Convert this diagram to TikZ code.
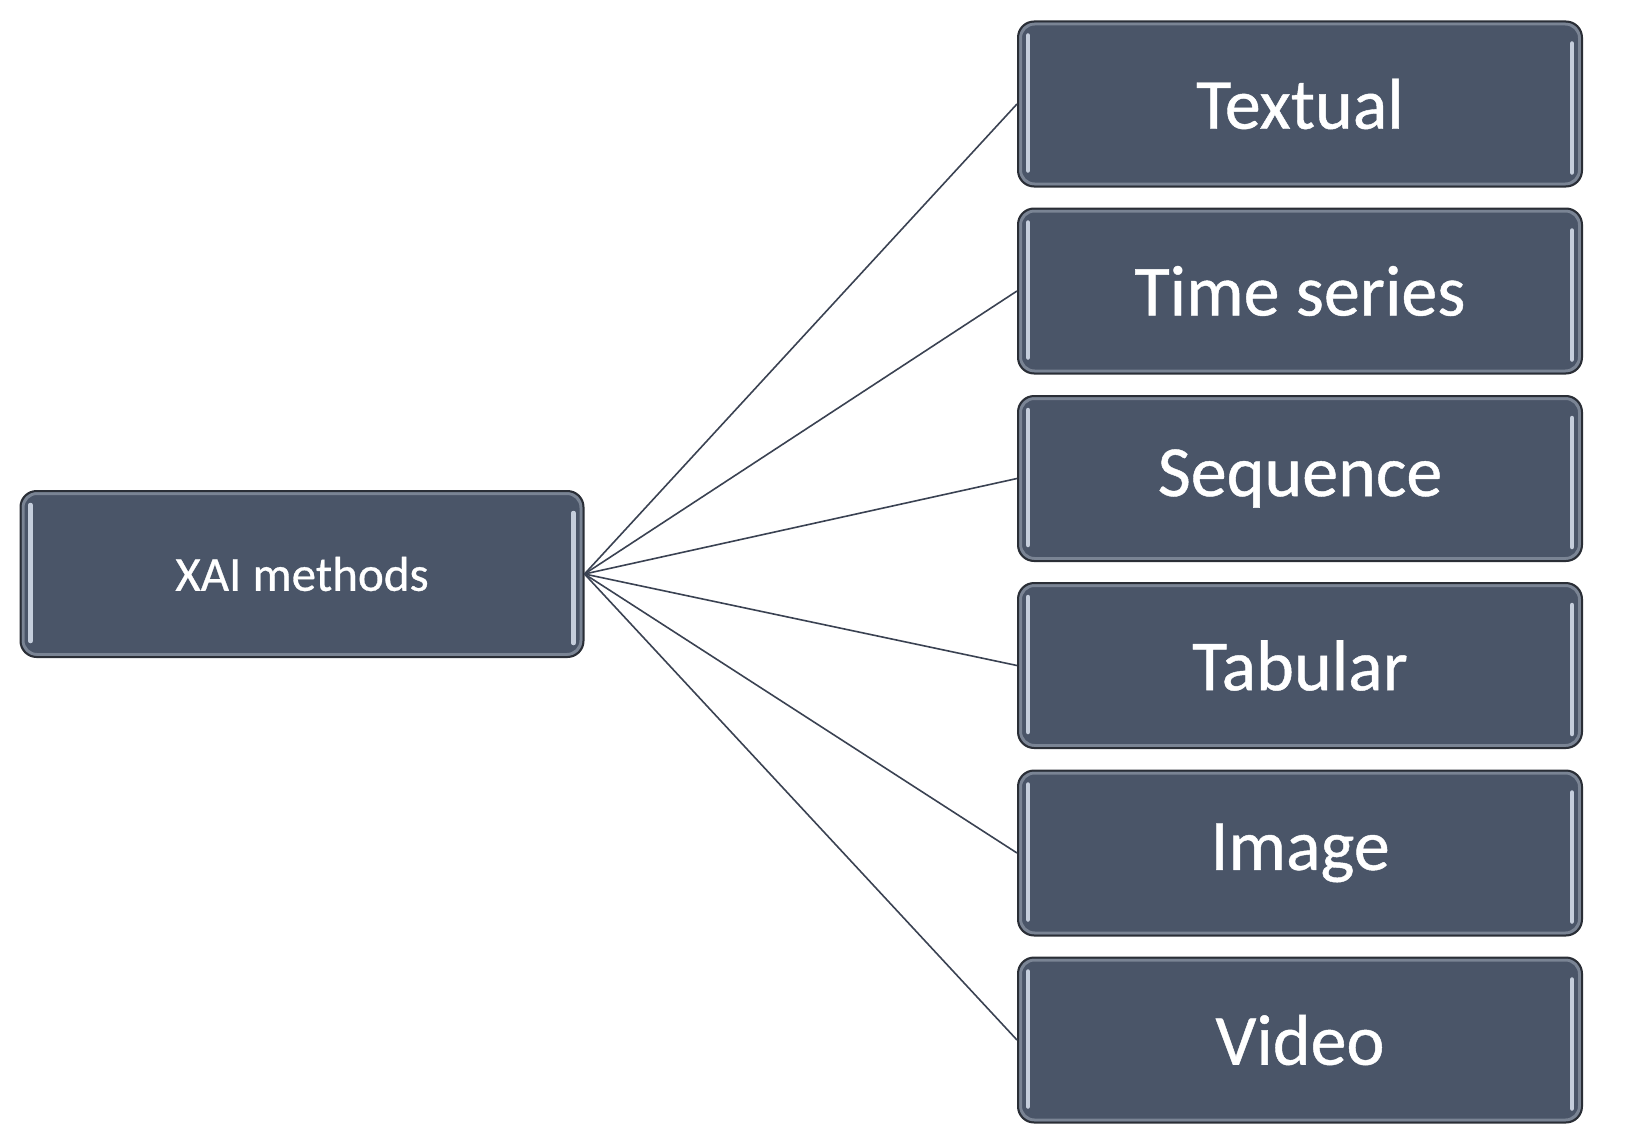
\documentclass[tikz,border=0pt]{standalone}
\usepackage{fontspec}
\setmainfont[FakeBold=0.6]{Carlito}
\definecolor{boxfill}{HTML}{4A5568}
\definecolor{boxline}{HTML}{2A2E36}
\definecolor{hlcol}{HTML}{C5CEDC}
\definecolor{bevel}{HTML}{7A8494}
\definecolor{linkcol}{HTML}{3A4252}
\tikzset{
  box/.style={rectangle, rounded corners=16pt, fill=boxfill, draw=boxline,
    line width=2pt, text=white, inner sep=0pt,
    path picture={
      \draw[bevel, line width=3pt, rounded corners=14pt]
        ([xshift=2.5pt,yshift=-2.5pt]path picture bounding box.north west) rectangle
        ([xshift=-2.5pt,yshift=2.5pt]path picture bounding box.south east);
      \draw[hlcol, line width=4.5pt, line cap=round]
        ([xshift=10pt,yshift=-14pt]path picture bounding box.north west) --
        ([xshift=10pt,yshift=16pt]path picture bounding box.south west);
      \draw[hlcol, line width=4.5pt, line cap=round]
        ([xshift=-10pt,yshift=-22pt]path picture bounding box.north east) --
        ([xshift=-10pt,yshift=14pt]path picture bounding box.south east);
    }},
  rootbox/.style={box, minimum width=563pt, minimum height=166pt, font=\fontsize{49}{58}\selectfont},
  leafbox/.style={box, minimum width=564pt, minimum height=165pt, font=\fontsize{72}{86}\selectfont},
  link/.style={linkcol, line width=1.6pt}
}
\begin{document}
\begin{tikzpicture}[x=1pt,y=-1pt]
\useasboundingbox (0,0) rectangle (1626,1132);
\node[rootbox] (root) at (302,574) {XAI methods};
\node[leafbox] (t1) at (1300,104) {Textual};
\node[leafbox] (t2) at (1300,291) {Time series};
\node[leafbox] (t3) at (1300,478.5) {Sequence};
\node[leafbox] (t4) at (1300,665.5) {Tabular};
\node[leafbox] (t5) at (1300,853) {Image};
\node[leafbox] (t6) at (1300,1040) {Video};
\foreach \n in {t1,t2,t3,t4,t5,t6}
  \draw[link] (root.east) -- (\n.west);
\end{tikzpicture}
\end{document}
